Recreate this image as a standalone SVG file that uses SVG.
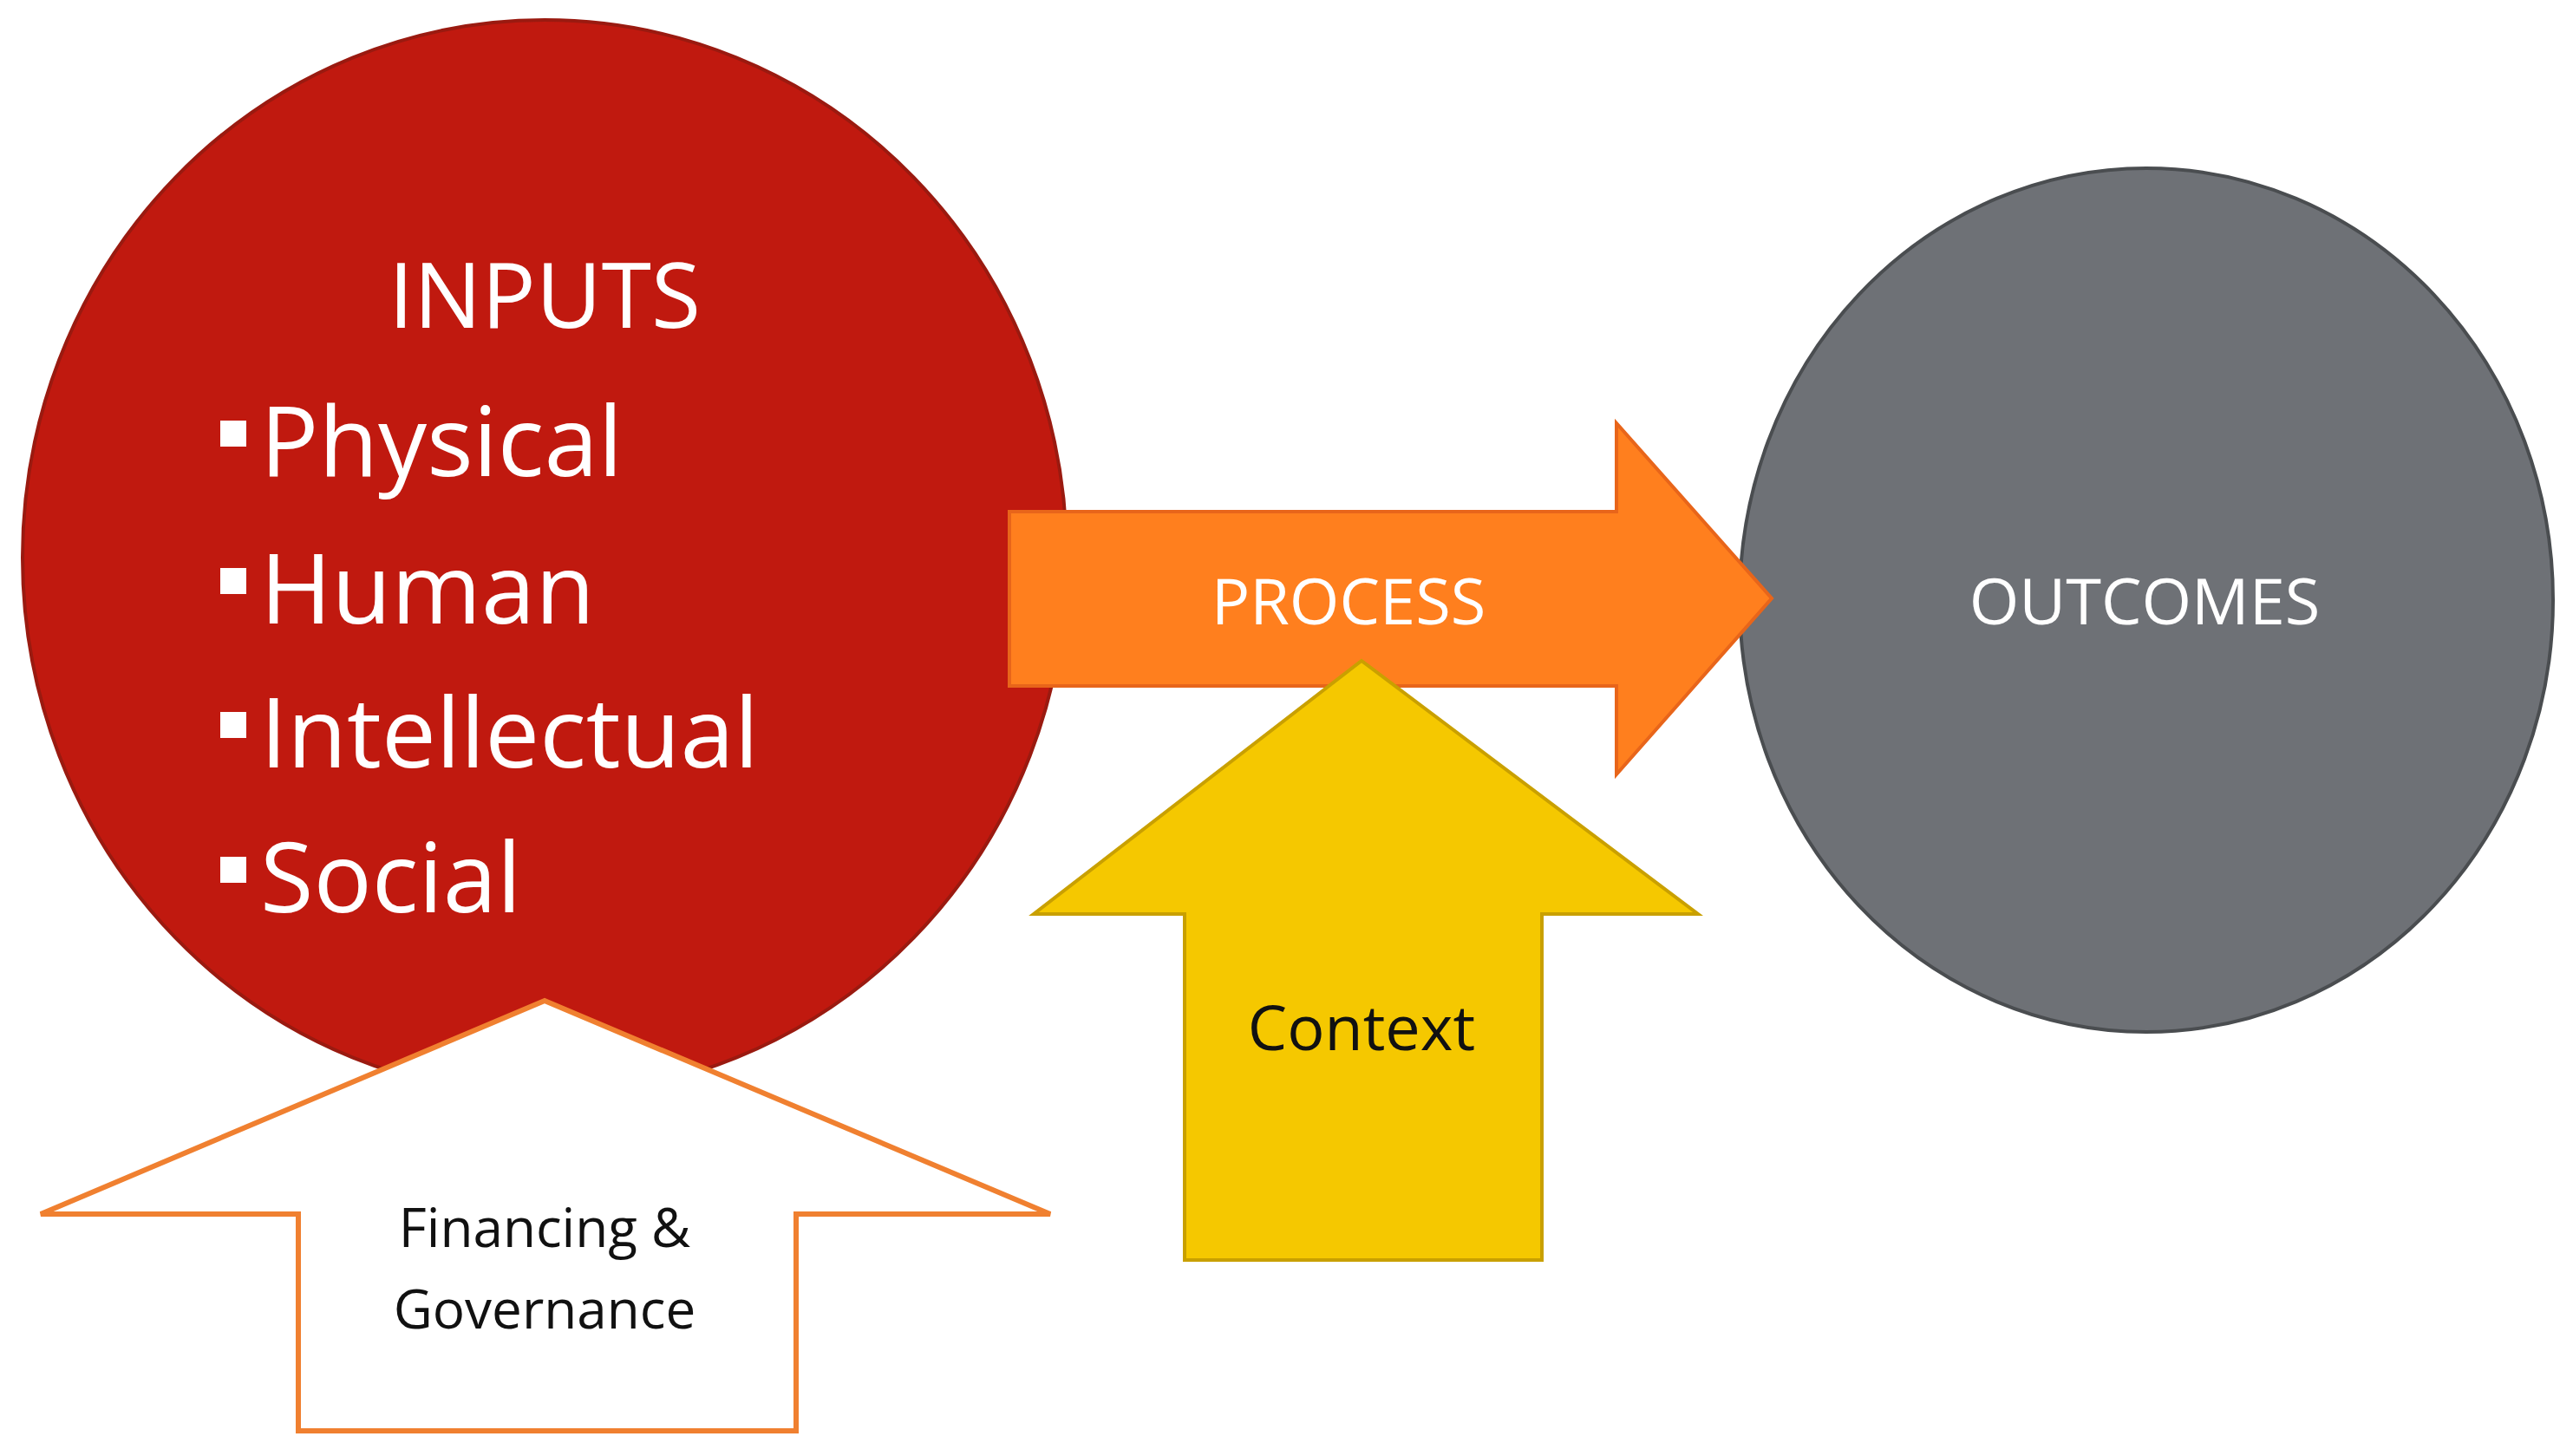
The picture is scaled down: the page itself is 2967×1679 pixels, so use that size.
<svg xmlns="http://www.w3.org/2000/svg" width="2967" height="1679" viewBox="0 0 2967 1679">
<style>
.t{font-family:"Open Sans","Liberation Sans",sans-serif;text-anchor:middle}
.w{fill:#fff}
.b{fill:#fff;font-family:"Open Sans","Liberation Sans",sans-serif;font-size:112px}
</style>
<rect width="2967" height="1679" fill="#fff"/>
<g id="inputs">
<ellipse cx="628" cy="643" rx="602" ry="620" fill="#C0190F" stroke="#9A1A10" stroke-width="4"/>
<text class="t w" x="628" y="378" font-size="104">INPUTS</text>
<rect x="254" y="485" width="30" height="30" fill="#fff"/>
<text class="b" x="300" y="549">Physical</text>
<rect x="254" y="655" width="30" height="30" fill="#fff"/>
<text class="b" x="300" y="719">Human</text>
<rect x="254" y="821" width="30" height="30" fill="#fff"/>
<text class="b" x="300" y="885">Intellectual</text>
<rect x="254" y="988" width="30" height="30" fill="#fff"/>
<text class="b" x="300" y="1052">Social</text>
</g>
<g id="outcomes">
<ellipse cx="2475" cy="692" rx="469" ry="498" fill="#6E7176" stroke="#4A4D50" stroke-width="4"/>
<text class="t w" x="2473" y="720" font-size="74">OUTCOMES</text>
</g>
<g id="connectors">
<g id="process">
<polygon points="1164,590 1864,590 1864,488 2043,690 1864,893 1864,791 1164,791" fill="#FF7F1E" stroke="#E8651A" stroke-width="4"/>
<text class="t w" x="1555" y="720" font-size="74">PROCESS</text>
</g>
<g id="context">
<polygon points="1570,762 1958,1054 1778,1054 1778,1453 1366,1453 1366,1054 1192,1054" fill="#F5C800" stroke="#C9A000" stroke-width="4"/>
<text class="t" x="1570" y="1211" font-size="72" fill="#111">Context</text>
</g>
<g id="financing">
<polygon points="628,1154 1211,1400 918,1400 918,1650 344,1650 344,1400 47,1400" fill="#fff" stroke="#F08030" stroke-width="6"/>
<text class="t" x="628" y="1438" font-size="62" fill="#111">Financing &amp;</text>
<text class="t" x="628" y="1532" font-size="62" fill="#111">Governance</text>
</g>
</g>
</svg>
